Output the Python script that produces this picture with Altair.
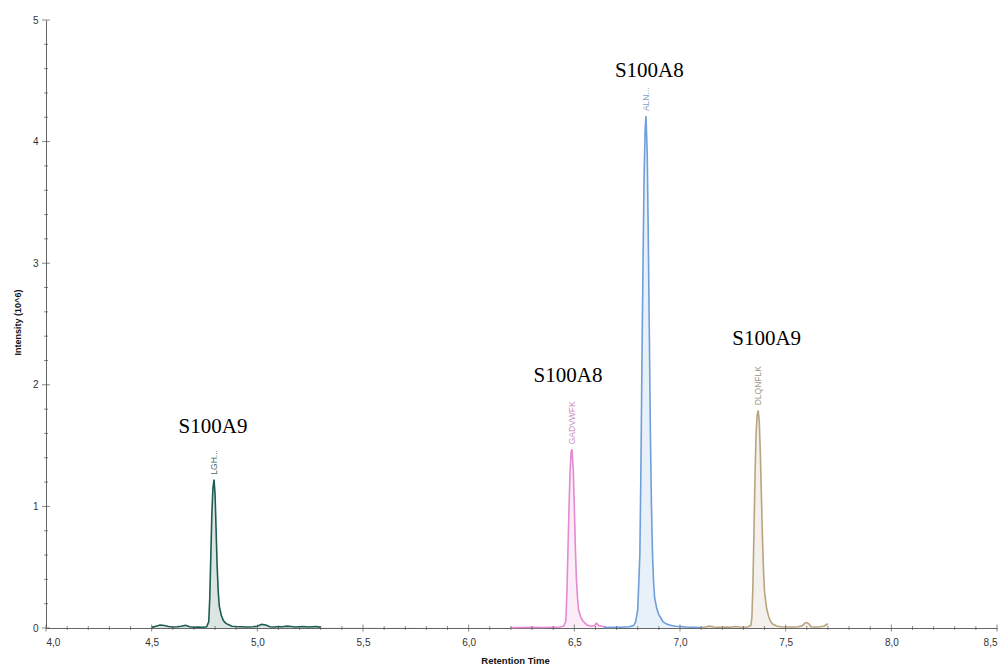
import altair as alt
import pandas as pd

# ---- chromatogram traces (retention time, intensity x10^6) ----
teal_rt = [4.50, 4.52, 4.54, 4.56, 4.58, 4.60, 4.62, 4.64, 4.66, 4.68, 4.70, 4.72, 4.74, 4.76,
           4.77, 4.775, 4.78, 4.785, 4.79, 4.795, 4.80, 4.805, 4.81, 4.815, 4.82, 4.83, 4.84,
           4.85, 4.86, 4.88, 4.90, 4.92, 4.95, 4.98, 5.00, 5.02, 5.04, 5.06, 5.08, 5.10, 5.12,
           5.14, 5.16, 5.18, 5.20, 5.22, 5.24, 5.26, 5.28, 5.30]
teal_int = [0.005, 0.015, 0.025, 0.02, 0.012, 0.008, 0.01, 0.015, 0.022, 0.01, 0.006, 0.008, 0.006, 0.01,
            0.05, 0.25, 0.6, 0.95, 1.15, 1.22, 1.1, 0.8, 0.5, 0.3, 0.18, 0.1, 0.06,
            0.04, 0.03, 0.015, 0.012, 0.01, 0.008, 0.01, 0.015, 0.03, 0.025, 0.01, 0.008, 0.012, 0.01,
            0.015, 0.012, 0.008, 0.01, 0.012, 0.008, 0.01, 0.012, 0.005]

pink_rt = [6.20, 6.25, 6.30, 6.35, 6.40, 6.43, 6.45, 6.46, 6.465, 6.47, 6.475, 6.48, 6.485, 6.489,
           6.495, 6.50, 6.505, 6.51, 6.515, 6.52, 6.53, 6.54, 6.55, 6.56, 6.58, 6.595, 6.605,
           6.615, 6.63, 6.65]
pink_int = [0.003, 0.004, 0.005, 0.004, 0.006, 0.008, 0.015, 0.06, 0.3, 0.65, 1.0, 1.3, 1.45, 1.47,
            1.3, 1.0, 0.65, 0.4, 0.25, 0.15, 0.09, 0.06, 0.04, 0.025, 0.015, 0.02, 0.04,
            0.02, 0.015, 0.008]

blue_rt = [6.64, 6.68, 6.72, 6.76, 6.78, 6.79, 6.80, 6.81, 6.815, 6.82, 6.825, 6.83, 6.835, 6.839,
           6.845, 6.85, 6.855, 6.86, 6.865, 6.87, 6.875, 6.88, 6.89, 6.90, 6.91, 6.92, 6.94,
           6.96, 6.98, 7.00, 7.03, 7.06, 7.10]
blue_int = [0.004, 0.005, 0.006, 0.01, 0.02, 0.05, 0.15, 0.6, 1.3, 2.2, 3.0, 3.7, 4.1, 4.21,
            3.9, 3.2, 2.4, 1.6, 1.0, 0.6, 0.38, 0.25, 0.16, 0.11, 0.08, 0.05, 0.03,
            0.02, 0.015, 0.012, 0.008, 0.006, 0.004]

tan_rt = [7.10, 7.12, 7.14, 7.16, 7.18, 7.20, 7.22, 7.24, 7.26, 7.28, 7.30, 7.32, 7.335, 7.34,
          7.345, 7.35, 7.355, 7.36, 7.365, 7.37, 7.375, 7.38, 7.385, 7.39, 7.395, 7.40, 7.41,
          7.42, 7.43, 7.44, 7.46, 7.48, 7.50, 7.53, 7.56, 7.58, 7.59, 7.60, 7.61, 7.62, 7.64,
          7.66, 7.68, 7.69, 7.70]
tan_int = [0.004, 0.008, 0.015, 0.008, 0.006, 0.005, 0.008, 0.006, 0.012, 0.008, 0.006, 0.008, 0.02, 0.08,
           0.35, 0.8, 1.25, 1.6, 1.75, 1.79, 1.7, 1.45, 1.1, 0.75, 0.48, 0.3, 0.16,
           0.09, 0.05, 0.03, 0.015, 0.01, 0.008, 0.008, 0.01, 0.02, 0.04, 0.045, 0.035, 0.01, 0.008,
           0.01, 0.015, 0.025, 0.035]

series_names = ["LGH", "GADVWFK", "ALN", "DLQNFLK"]
line_colors = ["#1f5c53", "#e48ad0", "#6f9fdb", "#baa480"]

# ---- annotations ----
pep_text = ["LGH...", "GADVWFK", "ALN...", "DLQNFLK"]
pep_rt = [4.795, 6.489, 6.839, 7.370]
pep_int = [1.22, 1.47, 4.21, 1.79]
pep_colors = ["#3b6b63", "#c98abd", "#7f9fc9", "#9d9584"]

prot_text = ["S100A9", "S100A8", "S100A8", "S100A9"]
prot_rt = [4.79, 6.47, 6.855, 7.41]
prot_int = [1.65, 2.07, 4.58, 2.38]

# ---- axis ticks ----
x_major = [4.0, 4.5, 5.0, 5.5, 6.0, 6.5, 7.0, 7.5, 8.0, 8.5]
x_minor = [round(4.0 + 0.1 * i, 1) for i in range(46) if i % 5 != 0]
y_major = [0, 1, 2, 3, 4, 5]
y_minor = [round(0.2 * i, 1) for i in range(26) if i % 5 != 0]

rows = []
for name, rts, ints in zip(series_names, [teal_rt, pink_rt, blue_rt, tan_rt],
                           [teal_int, pink_int, blue_int, tan_int]):
    for r, v in zip(rts, ints):
        rows.append({"series": name, "rt": r, "int": v})
df = pd.DataFrame(rows)

pep_df = pd.DataFrame({"rt": pep_rt, "int": pep_int, "text": pep_text, "col": pep_colors})
prot_df = pd.DataFrame({"rt": prot_rt, "int": prot_int, "text": prot_text})

xs = alt.Scale(domain=[4.0, 8.5], nice=False, zero=False)
ys = alt.Scale(domain=[0, 5], nice=False)
color = alt.Color("series:N", scale=alt.Scale(domain=series_names, range=line_colors), legend=None)

x_axis = alt.Axis(values=x_major, ticks=False, grid=False, domainColor="#666",
                  labelExpr="replace(format(datum.value, '.1f'), '.', ',')",
                  labelFontSize=10, labelColor="#333", labelPadding=9,
                  title="Retention Time", titleFontSize=9.5, titleFontWeight="bold",
                  titleColor="#111", titleX=469, titleY=32, titleBaseline="middle")
y_axis = alt.Axis(values=y_major, ticks=False, grid=False, domainColor="#666",
                  labelExpr="format(datum.value, 'd')", labelFontSize=10, labelColor="#333",
                  labelPadding=8,
                  title="Intensity (10^6)", titleFontSize=9, titleFontWeight="bold",
                  titleColor="#111", titleX=-29, titleY=302, titleBaseline="middle",
                  titleAngle=270, titleAlign="center")

base = alt.Chart(df)
area = base.mark_area(opacity=0.16, interpolate="linear").encode(
    x=alt.X("rt:Q", scale=xs, axis=x_axis),
    y=alt.Y("int:Q", scale=ys, axis=y_axis),
    color=color, detail="series:N")
line = base.mark_line(strokeWidth=1.6).encode(
    x=alt.X("rt:Q", scale=xs), y=alt.Y("int:Q", scale=ys), color=color, detail="series:N")

pep = alt.Chart(pep_df).mark_text(angle=270, align="left", baseline="middle", dx=5,
                                  fontSize=8.5, font="Liberation Sans").encode(
    x=alt.X("rt:Q", scale=xs), y=alt.Y("int:Q", scale=ys), text="text:N",
    color=alt.Color("col:N", scale=None))

prot = alt.Chart(prot_df).mark_text(align="center", baseline="middle", fontSize=21,
                                    font="Liberation Serif", color="#000").encode(
    x=alt.X("rt:Q", scale=xs), y=alt.Y("int:Q", scale=ys), text="text:N")

xmaj = alt.Chart(pd.DataFrame({"v": x_major})).mark_tick(
    orient="vertical", size=7, thickness=1, color="#555").encode(
    x=alt.X("v:Q", scale=xs), y=alt.Y(datum=0, scale=ys))
xmin = alt.Chart(pd.DataFrame({"v": x_minor})).mark_tick(
    orient="vertical", size=4, thickness=1, color="#555").encode(
    x=alt.X("v:Q", scale=xs), y=alt.Y(datum=0, scale=ys))
ymaj = alt.Chart(pd.DataFrame({"v": y_major})).mark_tick(
    orient="horizontal", size=8, thickness=1, color="#555").encode(
    y=alt.Y("v:Q", scale=ys), x=alt.X(datum=4.0, scale=xs))
ymin = alt.Chart(pd.DataFrame({"v": y_minor})).mark_tick(
    orient="horizontal", size=4, thickness=1, color="#555").encode(
    y=alt.Y("v:Q", scale=ys), x=alt.X(datum=4.0, scale=xs))

chart = alt.layer(area, line, xmaj, xmin, ymaj, ymin, pep, prot).properties(
    width=951, height=608,
    autosize=alt.AutoSizeParams(type="none"),
    padding={"left": 38, "top": 12, "right": 3, "bottom": 36},
).configure_view(stroke=None).configure_axis(labelFont="Liberation Sans",
                                             titleFont="Liberation Sans")

chart.save("out.html", embed_options={"renderer": "svg", "actions": False})
